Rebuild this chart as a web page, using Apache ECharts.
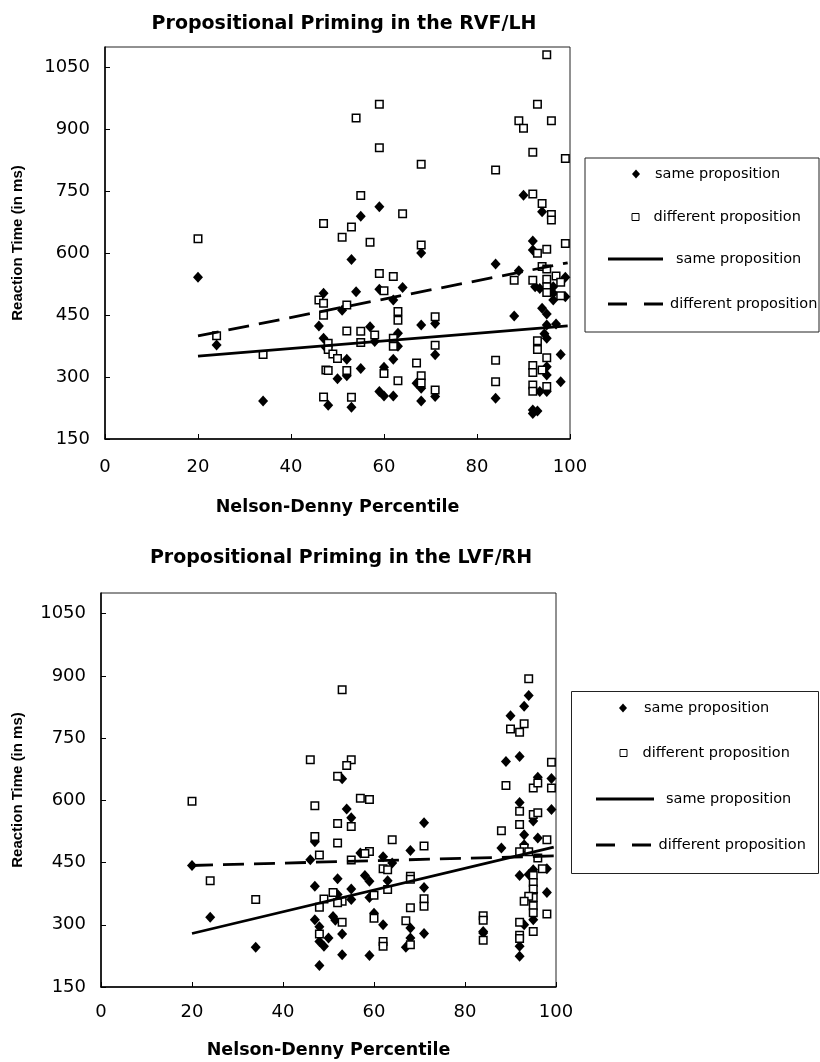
<!DOCTYPE html>
<html>
<head>
<meta charset="utf-8">
<script src="https://cdn.jsdelivr.net/npm/echarts@6/dist/echarts.min.js"></script>
<style>
  html, body { margin: 0; padding: 0; background: #fff; }
  #main { width: 820px; height: 1062px; }
</style>
</head>
<body>
<div id="main"></div>
<script>
// ---- data: RVF/LH (top panel) ----
var rvfSame = [
  [20, 542], [24, 378], [34, 242],
  [47, 503], [46, 424], [47, 394], [47.5, 372], [48, 232],
  [59, 713], [55, 690], [53, 585], [54, 507], [59, 513], [64, 517], [62, 487],
  [51, 462], [68, 601], [57, 422], [63, 406], [68, 426], [71, 430], [52, 343],
  [58, 386], [63, 375], [62, 343], [55, 321], [50, 296], [52, 303], [60, 324],
  [71, 354], [67, 285], [68, 273], [59, 265], [60, 254], [62, 254], [68, 242],
  [71, 253], [53, 227],
  [84, 574], [89, 558], [90, 741], [94, 701], [92, 630], [92, 608], [92.5, 519],
  [93.5, 515], [96.4, 519], [96.4, 503], [96.4, 487], [99, 542], [99, 495],
  [88, 448], [94, 467], [95, 453], [95, 426], [97, 429], [94.5, 405], [95, 394],
  [98, 355], [95, 325], [95, 305], [95, 265], [93.5, 265], [98, 289], [84, 249],
  [92, 220], [93, 218], [92, 212]
];
var rvfDiff = [
  [20, 635], [24, 400], [34, 355],
  [47, 672], [46, 487], [47, 479], [47, 450], [47.5, 317], [47, 252],
  [59, 961], [54, 928], [59, 856], [68, 816], [55, 740], [64, 696], [53, 664],
  [51, 639], [57, 627], [68, 620], [59, 551], [62, 544], [60, 509], [52, 475],
  [63, 459], [63, 438], [71, 446], [52, 412], [55, 411], [58, 402], [55, 384],
  [62, 394], [62, 375], [71, 377], [48, 382], [48, 367], [49, 356], [50, 345],
  [48, 316], [52, 316], [60, 309], [67, 334], [63, 291], [68, 303], [68, 286],
  [71, 269], [53, 251],
  [95, 1081], [93, 961], [89, 921], [90, 903], [96, 921], [92, 845], [99, 830],
  [84, 802], [92, 744], [94, 721], [96, 694], [96, 681], [99, 624], [93, 600],
  [95, 610], [94, 568], [95, 562], [97, 545], [98, 530], [88, 535], [92, 535],
  [95, 537], [95, 519], [95, 505], [98, 497], [93, 388], [93, 367], [95, 347],
  [84, 341], [92, 328], [92, 311], [94, 317], [95, 277], [92, 281], [92, 266],
  [84, 289]
];
var rvfSameFit = [[20, 351], [99.5, 424]];
var rvfDiffFit = [[20, 400], [99.5, 577]];

// ---- data: LVF/RH (bottom panel) ----
var lvfSame = [
  [20, 443], [24, 318], [34, 246],
  [53, 652], [54, 579], [55, 558], [47, 500], [71, 546], [46, 457], [57, 473],
  [62, 464], [68, 479], [64, 449], [47, 393], [52, 411], [58, 419], [59, 405],
  [63, 406], [55, 386], [52, 373], [55, 361], [59, 366], [71, 390], [47, 312],
  [48, 295], [51, 320], [51.5, 311], [60, 328], [62, 300], [68, 292], [48, 260],
  [49, 248], [50, 268], [53, 278], [71, 279], [68, 268], [67, 246], [53, 228],
  [59, 226], [48, 202],
  [94, 853], [93, 827], [90, 804], [89, 694], [92, 706], [96, 656], [99, 653],
  [92, 595], [99, 578], [95, 550], [93, 517], [96, 509], [88, 485], [93, 493],
  [92, 419], [94, 421], [95, 433], [98, 435], [98, 378], [95, 377], [95, 312],
  [93, 300], [84, 284], [84, 280], [92, 248], [92, 224]
];
var lvfDiff = [
  [20, 598], [24, 406], [34, 361],
  [53, 867], [46, 698], [55, 698], [54, 684], [52, 658], [57, 605], [59, 602],
  [47, 587], [52, 544], [55, 537], [47, 513], [52, 497], [64, 505], [71, 490],
  [59, 477], [58, 472], [48, 468], [55, 456], [62, 435], [63, 433], [68, 417],
  [68, 410], [51, 378], [49, 362], [48, 342], [53, 357], [52, 353], [60, 371],
  [63, 385], [71, 363], [71, 345], [68, 341], [53, 306], [60, 316], [67, 310],
  [48, 278], [62, 260], [62, 248], [68, 252],
  [94, 893], [93, 785], [92, 764], [90, 772], [99, 692], [89, 636], [95, 630],
  [96, 642], [99, 630], [92, 574], [95, 566], [96, 570], [92, 542], [88, 527],
  [98, 505], [93, 485], [92, 476], [94, 476], [96, 461], [97, 435], [95, 419],
  [95, 402], [95, 386], [95, 366], [95, 346], [95, 329], [94, 369], [93, 357],
  [98, 326], [84, 322], [84, 311], [84, 263], [92, 306], [95, 284], [92, 275],
  [92, 267]
];
var lvfSameFit = [[20, 279], [99.5, 487]];
var lvfDiffFit = [[20, 443], [99.5, 466]];

var titles = ['Propositional Priming in the RVF/LH', 'Propositional Priming in the LVF/RH'];
var xName = 'Nelson-Denny Percentile';
var yName = 'Reaction Time (in ms)';
var legendText = {
  same: 'same proposition', diff: 'different proposition',
  sameFit: 'same proposition', diffFit: 'different proposition'
};

var FONT = '"DejaVu Sans", Verdana, sans-serif';
var FONT_Y = '"Liberation Sans", Arial, sans-serif';
var chart = echarts.init(document.getElementById('main'), null, { renderer: 'canvas' });

function xAxisFor(gi, labelMargin, nameGap) {
  return {
    type: 'value', gridIndex: gi, min: 0, max: 100, interval: 20,
    name: xName, nameLocation: 'middle', nameGap: nameGap,
    nameTextStyle: { fontFamily: FONT, fontWeight: 'bold', fontSize: 17.5, color: '#000' },
    axisLine: { lineStyle: { color: '#000', width: 1.5 } },
    axisTick: { inside: true, length: 5, lineStyle: { color: '#000' } },
    axisLabel: { fontFamily: FONT, fontSize: 18, color: '#000', margin: labelMargin },
    splitLine: { show: false }
  };
}
function yAxisFor(gi, nameGap) {
  return {
    type: 'value', gridIndex: gi, min: 150, max: 1100, interval: 150,
    name: yName, nameLocation: 'middle', nameGap: nameGap,
    nameTextStyle: { fontFamily: FONT_Y, fontWeight: 'bold', fontSize: 15, color: '#000' },
    axisLine: { lineStyle: { color: '#000', width: 1.5 } },
    axisTick: { inside: true, length: 5, lineStyle: { color: '#000' } },
    axisLabel: { fontFamily: FONT, fontSize: 18, color: '#000', margin: 15,
      showMaxLabel: false, formatter: function (v) { return String(v); } },
    splitLine: { show: false }
  };
}
function seriesFor(gi, prefix, same, diff, sameFit, diffFit) {
  return [
    { name: prefix + 'same', type: 'scatter', xAxisIndex: gi, yAxisIndex: gi,
      symbol: 'diamond', symbolSize: [10, 11], data: same,
      itemStyle: { color: '#000', opacity: 1 } },
    { name: prefix + 'diff', type: 'scatter', xAxisIndex: gi, yAxisIndex: gi,
      symbol: 'rect', symbolSize: 7.5, data: diff,
      itemStyle: { color: '#fff', borderColor: '#000', borderWidth: 1.5, opacity: 1 } },
    { name: prefix + 'sameFit', type: 'line', xAxisIndex: gi, yAxisIndex: gi,
      symbol: 'none', data: sameFit, z: 5, color: '#000',
      lineStyle: { color: '#000', width: 2.8 } },
    { name: prefix + 'diffFit', type: 'line', xAxisIndex: gi, yAxisIndex: gi,
      symbol: 'none', data: diffFit, z: 5, color: '#000',
      lineStyle: { color: '#000', width: 2.8, type: [21, 10] } }
  ];
}

// one legend per entry so each icon/text pair sits where the original puts it
var ICON_DASH = 'path://M0,0H19V3H0Z M36,0H55V3H36Z';
function legendItem(name, icon, itemStyle, cx, cy, w, h, tx) {
  var left = cx - w / 2;
  return {
    left: left, top: cy - 13, itemWidth: w, itemHeight: h, selectedMode: false,
    formatter: function (n) { return legendText[n.slice(2)]; },
    textStyle: { fontFamily: FONT, fontSize: 14.5, color: '#000', lineHeight: 18,
      padding: [0, 0, 0, Math.max(0, tx - left - w - 10)] },
    data: [{ name: name, icon: icon, itemStyle: itemStyle }]
  };
}
function legendsFor(p, items) {
  var black = { color: '#000', borderWidth: 0, opacity: 1 };
  var hollow = { color: '#fff', borderColor: '#000', borderWidth: 1, opacity: 1 };
  return [
    legendItem(p + 'same', 'diamond', black, items[0][0], items[0][1], 8, 9, items[0][2]),
    legendItem(p + 'diff', 'rect', hollow, items[1][0], items[1][1], 7, 7, items[1][2]),
    legendItem(p + 'sameFit', 'rect', black, items[2][0], items[2][1], items[2][3], 3, items[2][2]),
    legendItem(p + 'diffFit', ICON_DASH, black, items[3][0], items[3][1], items[3][3], 3, items[3][2])
  ];
}

var option = {
  backgroundColor: '#fff',
  animation: false,
  title: [
    { text: titles[0], left: 339, top: 10, textAlign: 'center',
      textStyle: { fontFamily: FONT, fontWeight: 'bold', fontSize: 19, color: '#000' } },
    { text: titles[1], left: 336, top: 544, textAlign: 'center',
      textStyle: { fontFamily: FONT, fontWeight: 'bold', fontSize: 19, color: '#000' } }
  ],
  grid: [
    { left: 105, top: 47, width: 465, height: 392, show: true, borderColor: '#222', borderWidth: 1 },
    { left: 101, top: 593, width: 455, height: 394, show: true, borderColor: '#222', borderWidth: 1 }
  ],
  xAxis: [xAxisFor(0, 19, 59), xAxisFor(1, 16, 54)],
  yAxis: [yAxisFor(0, 80), yAxisFor(1, 76)],
  legend: legendsFor('t_', [[631, 173, 655], [630, 216, 653], [630.5, 258, 676, 55], [630.5, 303, 670, 55]])
    .concat(legendsFor('b_', [[618, 707, 644], [618, 752, 642], [620, 798, 666, 58], [620, 844, 660, 58]])),
  graphic: [
    { type: 'rect', shape: { x: 585, y: 158, width: 234, height: 174 },
      style: { fill: 'none', stroke: '#222', lineWidth: 1 }, silent: true },
    { type: 'rect', shape: { x: 571.5, y: 691.5, width: 247, height: 182 },
      style: { fill: 'none', stroke: '#222', lineWidth: 1 }, silent: true }
  ],
  series: seriesFor(0, 't_', rvfSame, rvfDiff, rvfSameFit, rvfDiffFit)
    .concat(seriesFor(1, 'b_', lvfSame, lvfDiff, lvfSameFit, lvfDiffFit))
};

chart.setOption(option);
</script>
</body>
</html>
